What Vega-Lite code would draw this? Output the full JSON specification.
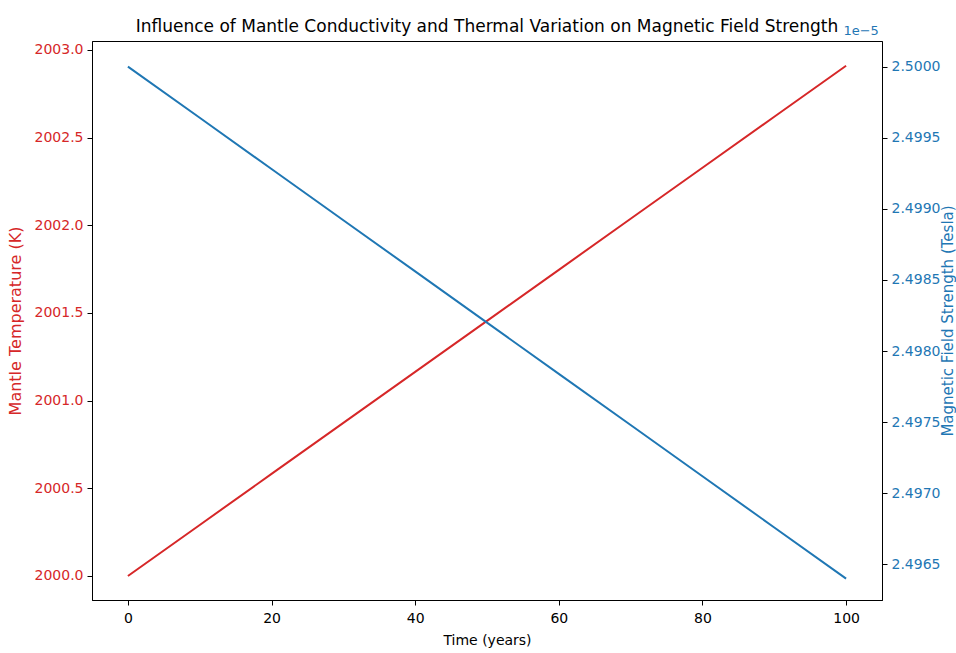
{
  "$schema": "https://vega.github.io/schema/vega-lite/v6.json",
  "width": 790,
  "height": 559,
  "autosize": {"type": "none"},
  "padding": {"left": 92, "top": 41, "right": 74, "bottom": 53},
  "background": "white",
  "config": {
    "font": "DejaVu Sans",
    "view": {"stroke": "#000", "strokeWidth": 1},
    "axis": {
      "grid": false,
      "domainColor": "#000",
      "tickColor": "#000",
      "tickSize": 5,
      "labelPadding": 4,
      "labelFont": "DejaVu Sans",
      "labelFontSize": 14,
      "titleFont": "DejaVu Sans",
      "titleFontSize": 14,
      "titleFontWeight": "normal"
    }
  },
  "title": {
    "text": "Influence of Mantle Conductivity and Thermal Variation on Magnetic Field Strength",
    "font": "DejaVu Sans",
    "fontSize": 17,
    "fontWeight": "normal",
    "color": "#000",
    "anchor": "middle",
    "frame": "group",
    "offset": -11
  },
  "data": {
    "values": [
      {"time": 0, "temp": 2000.000, "field": 2.50000e-5},
      {"time": 10, "temp": 2000.291, "field": 2.49964e-5},
      {"time": 20, "temp": 2000.582, "field": 2.49928e-5},
      {"time": 30, "temp": 2000.873, "field": 2.49892e-5},
      {"time": 40, "temp": 2001.164, "field": 2.49856e-5},
      {"time": 50, "temp": 2001.455, "field": 2.49820e-5},
      {"time": 60, "temp": 2001.746, "field": 2.49784e-5},
      {"time": 70, "temp": 2002.037, "field": 2.49748e-5},
      {"time": 80, "temp": 2002.328, "field": 2.49712e-5},
      {"time": 90, "temp": 2002.619, "field": 2.49676e-5},
      {"time": 100, "temp": 2002.910, "field": 2.49640e-5}
    ]
  },
  "layer": [
    {
      "mark": {"type": "line", "color": "#d62728", "strokeWidth": 2},
      "encoding": {
        "x": {
          "field": "time", "type": "quantitative",
          "scale": {"domain": [-5, 105], "nice": false, "zero": false},
          "axis": {"values": [0, 20, 40, 60, 80, 100], "title": "Time (years)", "titleColor": "#000", "labelColor": "#000", "labelPadding": 6, "titlePadding": 8}
        },
        "y": {
          "field": "temp", "type": "quantitative",
          "scale": {"domain": [1999.863, 2003.051], "nice": false, "zero": false},
          "axis": {
            "orient": "left",
            "values": [2000, 2000.5, 2001, 2001.5, 2002, 2002.5, 2003],
            "format": ".1f",
            "title": "Mantle Temperature (K)",
            "titleFontSize": 16,
            "titleColor": "#d62728",
            "labelColor": "#d62728",
            "titlePadding": 11
          }
        }
      }
    },
    {
      "layer": [
        {
          "mark": {"type": "line", "color": "#1f77b4", "strokeWidth": 2},
          "encoding": {
            "x": {"field": "time", "type": "quantitative"},
            "y": {
              "field": "field", "type": "quantitative",
              "scale": {"domain": [2.49625e-5, 2.50018e-5], "nice": false, "zero": false},
              "axis": {
                "orient": "right",
                "values": [2.4965e-5, 2.497e-5, 2.4975e-5, 2.498e-5, 2.4985e-5, 2.499e-5, 2.4995e-5, 2.5e-5],
                "labelExpr": "format(datum.value * 100000, '.4f')",
                "title": "Magnetic Field Strength (Tesla)",
                "titleFontSize": 15,
                "titleColor": "#1f77b4",
                "labelColor": "#1f77b4",
                "titleAngle": 270,
                "titlePadding": 16
              }
            }
          }
        },
        {
          "data": {"values": [{"t": 102.1, "f": 2.50025e-5, "label": "1e−5"}]},
          "mark": {"type": "text", "color": "#1f77b4", "fontSize": 13, "font": "DejaVu Sans", "align": "center", "baseline": "middle", "clip": false},
          "encoding": {
            "x": {"field": "t", "type": "quantitative"},
            "y": {"field": "f", "type": "quantitative"},
            "text": {"field": "label"}
          }
        }
      ]
    }
  ],
  "resolve": {"scale": {"y": "independent"}}
}
